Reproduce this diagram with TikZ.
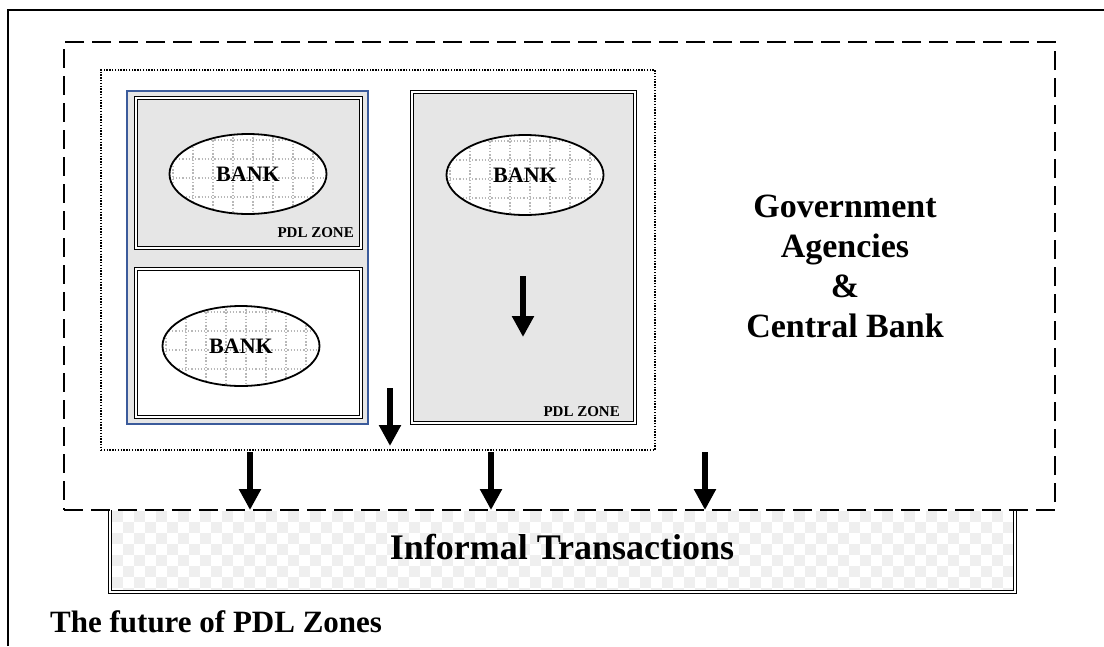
\documentclass[tikz,border=0pt]{standalone}
\usepackage{fontspec}
\setmainfont{Liberation Serif}
\usetikzlibrary{arrows.meta,shapes.geometric}
\definecolor{boxgray}{HTML}{E6E6E6}
\definecolor{boxblue}{HTML}{3B5B9B}
\definecolor{checkgray}{HTML}{EFEFEF}
\definecolor{griddot}{HTML}{B8B8B8}
\tikzset{
  plainbox/.style={inner sep=0pt, outer sep=0pt, anchor=north west},
  dashbox/.style={plainbox, draw, line width=2.2pt, dash pattern=on 19pt off 8pt},
  dotbox/.style={plainbox, draw, line width=1.4pt, dash pattern=on 1.4pt off 1.4pt},
  bluebox/.style={plainbox, draw=boxblue, line width=1.6pt, fill=boxgray},
  dblbox/.style={plainbox, draw, line width=1pt, double distance=1.6pt, double=white},
  bankell/.style={ellipse, draw, line width=1.8pt, fill=white, minimum width=157pt,
    minimum height=80pt, inner sep=0pt, font=\fontsize{22}{24}\selectfont\bfseries,
    path picture={
      \foreach \k in {-4,...,4}{
        \draw[griddot, line width=1.1pt, dash pattern=on 1.3pt off 1.9pt]
          ([xshift=\k*20pt+5pt]path picture bounding box.north) --
          ([xshift=\k*20pt+5pt]path picture bounding box.south);}
      \foreach \k in {-2,...,2}{
        \draw[griddot, line width=1.1pt, dash pattern=on 1.3pt off 1.9pt]
          ([yshift=\k*19pt-4pt]path picture bounding box.west) --
          ([yshift=\k*19pt-4pt]path picture bounding box.east);}
    }},
  zonelabel/.style={anchor=base east, inner sep=0pt, font=\fontsize{15}{16}\selectfont\bfseries},
  bigarrow/.style={line width=6.5pt, -{Triangle[width=21pt,length=21pt]}},
  dblline/.style={draw, line width=1pt, double distance=1.6pt, double=white}
}
\begin{document}
\begin{tikzpicture}[x=1pt,y=-1pt]
\useasboundingbox (0,0) rectangle (1104,646);
% outer frame
\draw[line width=2pt] (8,646) -- (8,10) -- (1104,10);

% informal transactions area
\node[plainbox, minimum width=905pt, minimum height=82pt] (inf) at (110,510) {};
\begin{scope}
  \clip (112,511) rectangle (1013,590);
  \foreach \x in {112,134,...,1013}{
    \foreach \y in {511,533,...,590}{
      \fill[checkgray] (\x,\y) rectangle +(11,11);
      \fill[checkgray] (\x+11,\y+11) rectangle +(11,11);
    }}
\end{scope}
\draw[dblline] (inf.north west) -- (inf.south west) -- (inf.south east) -- (inf.north east);
\node[anchor=base, inner sep=0pt, font=\fontsize{36}{38}\selectfont\bfseries] (inftext) at (562,559) {Informal Transactions};

% government box
\node[dashbox, minimum width=991pt, minimum height=468pt] (gov) at (64,42) {};
\node[align=center, inner sep=0pt, font=\fontsize{34}{40}\selectfont\bfseries] (govtext) at (845,266)
  {Government\\Agencies\\\&\\Central Bank};

% dotted zone group
\node[dotbox, minimum width=554pt, minimum height=380pt] (zones) at (101,70) {};
\node[bluebox, minimum width=241pt, minimum height=333pt] (blue) at (127,91) {};
\node[dblbox, fill=boxgray, minimum width=225pt, minimum height=150pt] (z1) at (136,98) {};
\node[dblbox, fill=white, minimum width=225pt, minimum height=148pt] (z2) at (136,269) {};
\node[dblbox, fill=boxgray, minimum width=223pt, minimum height=331pt] (z3) at (412,92) {};

\node[bankell] (b1) at (248,174) {BANK};
\node[bankell] (b2) at (241,346) {BANK};
\node[bankell] (b3) at (525,175) {BANK};

\node[zonelabel] (l1) at (354,237) {PDL ZONE};
\node[zonelabel] (l3) at (620,416) {PDL ZONE};

% arrows
\coordinate (ia) at (523,276);
\coordinate (ib) at (523,337);
\draw[bigarrow] (ia) -- (ib);
\coordinate (sa) at (390,388);
\draw[bigarrow] (sa) -- ([yshift=4pt]sa |- zones.south);
\coordinate (a1) at (250,452);
\coordinate (a2) at (491,452);
\coordinate (a3) at (705,452);
\draw[bigarrow] (a1) -- (a1 |- inf.north);
\draw[bigarrow] (a2) -- (a2 |- inf.north);
\draw[bigarrow] (a3) -- (a3 |- inf.north);

% caption
\node[anchor=base west, inner sep=0pt, font=\fontsize{31}{33}\selectfont\bfseries] (cap) at (50,632) {The future of PDL Zones};
\end{tikzpicture}
\end{document}
